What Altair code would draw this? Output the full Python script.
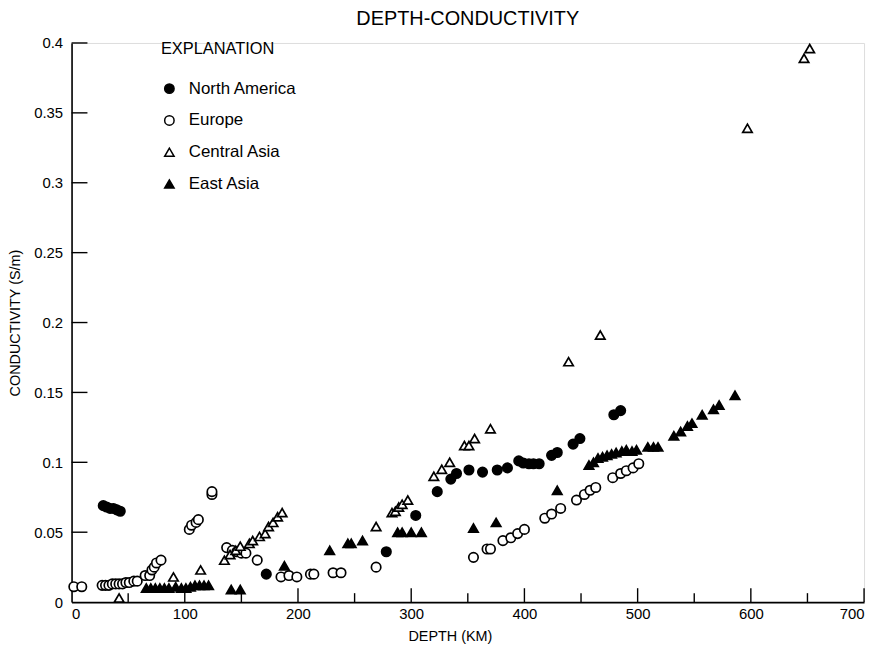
import altair as alt
import pandas as pd

# ---------------- data ----------------
regions = ["North America", "Europe", "Central Asia", "East Asia"]

na_depth = [28, 31, 34, 37, 40, 43, 172, 278, 304, 323, 335, 340, 351, 363, 376, 385,
            395, 399, 404, 408, 413, 424, 429, 443, 449, 479, 485]
na_cond = [0.069, 0.068, 0.067, 0.067, 0.066, 0.065, 0.020, 0.036, 0.062, 0.079, 0.088,
           0.092, 0.0945, 0.093, 0.0945, 0.096, 0.101, 0.0995, 0.099, 0.099, 0.099,
           0.105, 0.107, 0.113, 0.117, 0.134, 0.137]

eu_depth = [2, 9, 27, 30, 33, 36, 39, 42, 45, 48, 51, 55, 58, 65, 69, 71, 73, 75, 79,
            104, 106, 110, 112, 124, 124, 137, 142, 146, 150, 154, 164, 185, 192, 199,
            211, 214, 231, 238, 269, 355, 367, 370, 381, 388, 394, 400, 418, 424, 432,
            446, 453, 458, 463, 478, 485, 490, 496, 501]
eu_cond = [0.011, 0.011, 0.012, 0.012, 0.012, 0.013, 0.013, 0.013, 0.013, 0.014, 0.014,
           0.015, 0.015, 0.019, 0.019, 0.023, 0.025, 0.028, 0.030, 0.052, 0.055, 0.057,
           0.059, 0.077, 0.079, 0.039, 0.037, 0.036, 0.035, 0.035, 0.030, 0.018, 0.019,
           0.018, 0.020, 0.020, 0.021, 0.021, 0.025, 0.032, 0.038, 0.038, 0.044, 0.046,
           0.049, 0.052, 0.060, 0.063, 0.067, 0.073, 0.077, 0.080, 0.082, 0.089, 0.092,
           0.094, 0.096, 0.099]

ca_depth = [42, 90, 114, 135, 140, 145, 149, 157, 160, 166, 171, 174, 178, 182, 186,
            269, 283, 286, 289, 292, 297, 320, 327, 334, 347, 351, 356, 370, 439, 467,
            597, 647, 652]
ca_cond = [0.003, 0.018, 0.023, 0.030, 0.034, 0.037, 0.040, 0.042, 0.044, 0.047, 0.049,
           0.054, 0.057, 0.061, 0.064, 0.054, 0.064, 0.065, 0.068, 0.070, 0.073, 0.090,
           0.095, 0.100, 0.112, 0.112, 0.117, 0.124, 0.172, 0.191, 0.339, 0.389, 0.396]

ea_depth = [66, 70, 74, 78, 82, 86, 92, 97, 101, 105, 109, 113, 117, 121, 141, 149, 188,
            228, 244, 247, 257, 288, 292, 300, 309, 355, 375, 429, 457, 461, 465, 469,
            473, 477, 481, 486, 490, 495, 499, 509, 514, 518, 532, 538, 544, 548, 557,
            567, 572, 586]
ea_cond = [0.010, 0.010, 0.010, 0.010, 0.010, 0.010, 0.011, 0.010, 0.010, 0.011, 0.012,
           0.012, 0.012, 0.012, 0.009, 0.009, 0.026, 0.037, 0.042, 0.042, 0.044, 0.050,
           0.050, 0.050, 0.050, 0.053, 0.057, 0.080, 0.098, 0.100, 0.103, 0.104, 0.105,
           0.106, 0.107, 0.108, 0.109, 0.108, 0.109, 0.111, 0.111, 0.111, 0.119, 0.122,
           0.126, 0.128, 0.134, 0.138, 0.141, 0.148]

x_labels = [0, 100, 200, 300, 400, 500, 600, 700]
x_major_ticks = [100, 200, 300, 400, 500, 600, 700]
x_minor_ticks = [50, 150, 250, 350, 450, 550, 650]
y_labels = [0, 0.05, 0.1, 0.15, 0.2, 0.25, 0.3, 0.35, 0.4]
y_ticks = [0.05, 0.1, 0.15, 0.2, 0.25, 0.3, 0.35, 0.4]

# ---------------- tables ----------------
rows = []
for name, ds, cs in [("North America", na_depth, na_cond), ("Europe", eu_depth, eu_cond),
                     ("Central Asia", ca_depth, ca_cond), ("East Asia", ea_depth, ea_cond)]:
    rows += [{"region": name, "kind": name, "depth": d, "cond": c} for d, c in zip(ds, cs)]
df = pd.DataFrame(rows)

df_xmaj = pd.DataFrame({"depth": x_major_ticks})
df_xmin = pd.DataFrame({"depth": x_minor_ticks})
df_y = pd.DataFrame({"cond": y_ticks})

FONT = "Liberation Sans"
W, H = 798, 563

x_scale = alt.Scale(domain=[0, 700], nice=False)
y_scale = alt.Scale(domain=[0, 0.4], nice=False)

x_axis = alt.Axis(title="DEPTH (KM)", values=x_labels, format="d", ticks=False, grid=False,
                  domainColor="black", domainWidth=1.6, labelPadding=5, labelFontSize=15,
                  labelColor="black", titleFontSize=14.5, titleFontWeight="normal",
                  titleColor="black", titleX=381, titleY=28, titleBaseline="top",
                  labelFont=FONT, titleFont=FONT)
y_axis = alt.Axis(title="CONDUCTIVITY (S/m)", values=y_labels, format=".2~f", ticks=False,
                  grid=False, domainColor="black", domainWidth=1.6, labelPadding=9,
                  labelFontSize=15, labelColor="black", titleFontSize=14.5,
                  titleFontWeight="normal", titleColor="black", titlePadding=11,
                  labelFont=FONT, titleFont=FONT)

legend = alt.Legend(title="EXPLANATION", orient="none", legendX=90, legendY=-2,
                    titleFontSize=16.5, titleFontWeight="normal", titleFont=FONT,
                    titleColor="black", labelFont=FONT, labelFontSize=17,
                    labelColor="black", symbolSize=45, symbolStrokeWidth=1.5,
                    symbolStrokeColor="black", rowPadding=14,
                    titlePadding=23, labelOffset=11)

points = alt.Chart(df).mark_point(filled=True, strokeWidth=1.7, opacity=1).encode(
    x=alt.X("depth:Q", scale=x_scale, axis=x_axis),
    y=alt.Y("cond:Q", scale=y_scale, axis=y_axis),
    color=alt.Color("region:N", scale=alt.Scale(domain=regions,
                    range=["black", "white", "white", "black"]), legend=legend),
    stroke=alt.Stroke("region:N", scale=alt.Scale(domain=regions,
                      range=["black", "black", "black", "black"]), legend=legend),
    shape=alt.Shape("region:N", scale=alt.Scale(domain=regions,
                    range=["circle", "circle", "triangle-up", "triangle-up"]), legend=legend),
    size=alt.Size("kind:N", scale=alt.Scale(domain=regions, range=[90, 90, 130, 130]),
                  legend=None),
)

xmaj = alt.Chart(df_xmaj).mark_rule(color="black", strokeWidth=1.4).encode(
    x=alt.X("depth:Q", scale=x_scale, axis=x_axis),
    y=alt.value(H), y2=alt.value(H - 14))
xmin = alt.Chart(df_xmin).mark_rule(color="black", strokeWidth=1.4).encode(
    x=alt.X("depth:Q", scale=x_scale, axis=x_axis),
    y=alt.value(H), y2=alt.value(H - 9))
yt = alt.Chart(df_y).mark_rule(color="black", strokeWidth=1.4).encode(
    y=alt.Y("cond:Q", scale=y_scale, axis=y_axis),
    x=alt.value(0), x2=alt.value(16))

chart = alt.layer(xmaj, xmin, yt, points).properties(
    width=W, height=H,
    title=alt.TitleParams("DEPTH-CONDUCTIVITY", fontSize=20, font=FONT, fontWeight="normal",
                          anchor="middle", frame="group", offset=7, color="black"),
    autosize=alt.AutoSizeParams(type="none"),
    padding={"left": 64, "top": 33, "right": 9, "bottom": 44},
).configure_view(stroke=None).configure(background="white")

chart.save("out.html", embed_options={"renderer": "svg", "actions": False})
